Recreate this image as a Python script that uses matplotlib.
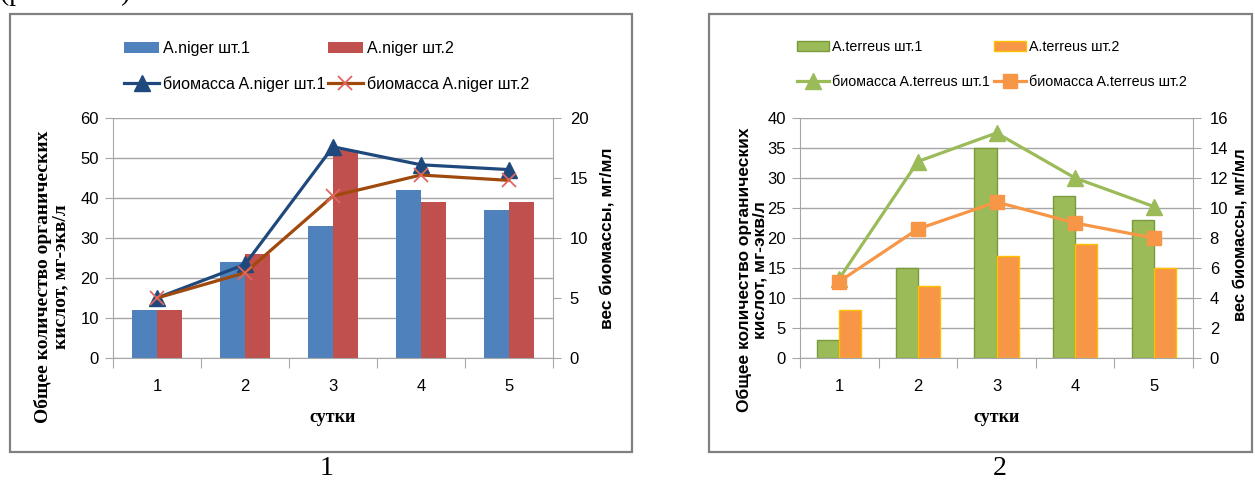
import numpy as np
import matplotlib
matplotlib.use('Agg')
import matplotlib.pyplot as plt
from matplotlib import font_manager
from matplotlib.patches import Rectangle

# сутки культивирования
days = ['1', '2', '3', '4', '5']

# органические кислоты, мг-экв/л
niger1 = [12, 24, 33, 42, 37]
niger2 = [12, 26, 52, 39, 39]
terreus1 = [3, 15, 35, 27, 23]
terreus2 = [8, 12, 17, 19, 15]

# вес биомассы, мг/мл
niger1_bio = [5.0, 7.8, 17.6, 16.1, 15.7]
niger2_bio = [5.0, 7.1, 13.5, 15.25, 14.8]
terreus1_bio = [5.3, 13.1, 15.0, 12.0, 10.1]
terreus2_bio = [5.1, 8.6, 10.4, 9.0, 8.0]

names = {f.name for f in font_manager.fontManager.ttflist}
narrow = 'Liberation Sans Narrow' if 'Liberation Sans Narrow' in names else 'Liberation Sans'
plt.rcParams['font.family'] = narrow

W, H = 1255, 482
def fx(px):
    return px / W
def fy(py):
    return 1 - py / H

GRAY = '#A6A6A6'
fig = plt.figure(figsize=(W / 100, H / 100), dpi=100)


def panel(x0, x1, bars, bar_styles, lines, line_styles, ymax, ystep, y2max, y2step):
    ax = fig.add_axes([fx(x0), fy(358), (x1 - x0) / W, 240 / H])
    x = np.arange(len(days))
    w = 0.28
    handles = []
    for k, (vals, st) in enumerate(zip(bars, bar_styles)):
        b = ax.bar(x + (k - 0.5) * w, vals, w, zorder=2, **st)
        handles.append(b)
    ax.set_xlim(-0.5, len(days) - 0.5)
    ax.set_ylim(0, ymax)
    ax.set_yticks(np.arange(0, ymax + 1, ystep))
    ax.grid(axis='y', color=GRAY, lw=1)
    ax.set_axisbelow(True)
    ax.set_xticks(np.arange(-0.5, len(days), 1))
    ax.set_xticklabels([])
    ax.set_xticks(x, minor=True)
    ax.set_xticklabels(days, minor=True)
    ax.tick_params(axis='x', which='major', length=7, color=GRAY)
    ax.tick_params(axis='x', which='minor', length=0, pad=15, labelsize=12)
    ax.tick_params(axis='y', length=6, color=GRAY, pad=4, labelsize=12)
    for s in ['top', 'right']:
        ax.spines[s].set_visible(False)
    for s in ['left', 'bottom']:
        ax.spines[s].set_color(GRAY)

    ax2 = ax.twinx()
    lh = []
    for vals, st in zip(lines, line_styles):
        l, = ax2.plot(x, vals, lw=2.3, **st)
        lh.append(l)
    ax2.set_ylim(0, y2max)
    ax2.set_yticks(np.arange(0, y2max + 1, y2step))
    ax2.tick_params(axis='y', length=6, color=GRAY, pad=6, labelsize=12)
    for s in ['top', 'left', 'bottom']:
        ax2.spines[s].set_visible(False)
    ax2.spines['right'].set_color(GRAY)
    ax.set_xlabel('сутки', family='Liberation Serif', fontweight='bold', fontsize=13, labelpad=11)
    return ax, [handles[0], lh[0], handles[1], lh[1]]


# --- A.niger
ax1, h1 = panel(113, 553, [niger1, niger2],
                [dict(color='#4F81BD', label='A.niger шт.1'),
                 dict(color='#C0504D', label='A.niger шт.2')],
                [niger1_bio, niger2_bio],
                [dict(color='#1F497D', marker='^', ms=11, label='биомасса A.niger шт.1'),
                 dict(color='#A0490C', marker='x', ms=10, mec='#E06660', mew=1.3,
                      label='биомасса A.niger шт.2')],
                60, 10, 20, 5)
fig.legend(handles=h1, ncol=2, loc='upper left', bbox_to_anchor=(fx(116), fy(33)),
           frameon=False, borderpad=0, fontsize=11.5, handlelength=2.2,
           handletextpad=0.25, columnspacing=0.15, labelspacing=1.25)

# --- A.terreus
ax2, h2 = panel(800, 1193, [terreus1, terreus2],
                [dict(color='#9BBB59', edgecolor='#7A9A3C', lw=1, label='A.terreus шт.1'),
                 dict(color='#F79646', edgecolor='#FFC000', lw=1, label='A.terreus шт.2')],
                [terreus1_bio, terreus2_bio],
                [dict(color='#9BBB59', marker='^', ms=11, label='биомасса A.terreus шт.1'),
                 dict(color='#F79646', marker='s', ms=10, label='биомасса A.terreus шт.2')],
                40, 5, 16, 2)
fig.legend(handles=h2, ncol=2, loc='upper left', bbox_to_anchor=(fx(790), fy(33)),
           frameon=False, borderpad=0, fontsize=10.3, handlelength=2.2,
           handletextpad=0.25, columnspacing=0.3, labelspacing=1.45)

# подписи осей
fig.text(fx(52), fy(277), 'Общее количество органических\nкислот, мг-экв/л', rotation=90,
         ha='center', va='center', multialignment='center', family='Liberation Serif',
         fontweight='bold', fontsize=14, linespacing=1.0)
fig.text(fx(607), fy(238), 'вес биомассы, мг/мл', rotation=90, ha='center', va='center',
         family='Liberation Sans', fontweight='bold', fontsize=12.5)
fig.text(fx(752), fy(270), 'Общее количество органических\nкислот, мг-экв/л', rotation=90,
         ha='center', va='center', multialignment='center', family='Liberation Sans',
         fontweight='bold', fontsize=12.5, linespacing=1.0)
fig.text(fx(1240), fy(235), 'вес биомассы, мг/мл', rotation=90, ha='center', va='center',
         family='Liberation Sans', fontweight='bold', fontsize=12)

# рамки диаграмм
for (a, b) in [(10, 632), (709, 1252)]:
    fig.add_artist(Rectangle((fx(a), fy(452)), (b - a) / W, (452 - 14) / H,
                             transform=fig.transFigure, fill=False,
                             edgecolor='#808080', lw=1.6))

fig.text(fx(327), fy(481), '1', ha='center', va='bottom', family='Liberation Serif', fontsize=20)
fig.text(fx(1000), fy(481), '2', ha='center', va='bottom', family='Liberation Serif', fontsize=20)
# подпись над рисунком уходит за верхний край страницы
fig.text(fx(0), fy(0), '(рис. 1 и 2)', ha='left', va='baseline', family='Liberation Serif', fontsize=20)

fig.savefig('out.png', dpi=100)
